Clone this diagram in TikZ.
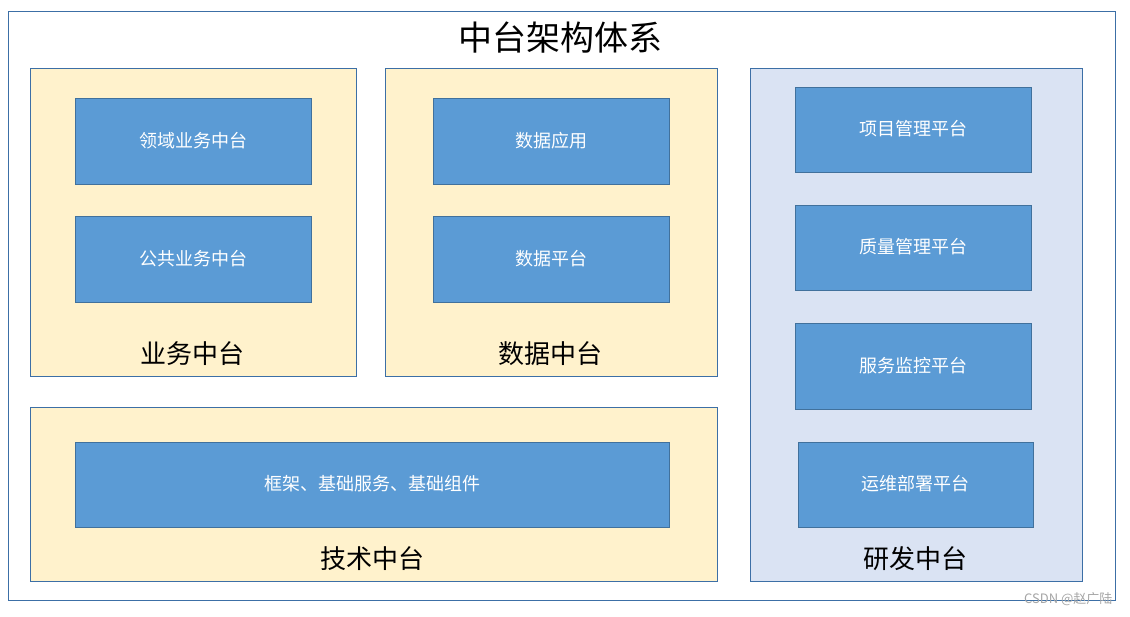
\documentclass[tikz,border=0pt]{standalone}
\usepackage{fontspec}
\newfontfamily\cjk{Noto Sans CJK SC}
\definecolor{cy}{HTML}{FFF2CC}
\definecolor{cb}{HTML}{DAE3F3}
\definecolor{bb}{HTML}{5B9BD5}
\definecolor{bd}{HTML}{41719C}
\definecolor{ln}{HTML}{3C6FA6}
\begin{document}
\begin{tikzpicture}[x=1pt,y=-1pt,font=\cjk,
 cont/.style={draw=ln,line width=0.6pt},
 item/.style={draw=bd,fill=bb,line width=0.6pt},
 itxt/.style={text=white,font=\cjk\fontsize{18}{20}\selectfont},
 lbl/.style={font=\cjk\fontsize{26}{28}\selectfont}]
\useasboundingbox (0,0) rectangle (1130,616);
\fill[white] (0,0) rectangle (1130,616);
\draw[ln,line width=0.6pt] (8,11) rectangle (1115,600);
\node[font=\cjk\fontsize{34}{36}\selectfont] (title) at (560,38) {中台架构体系};
% business
\draw[cont,fill=cy] (30,68) rectangle (356,376);
\draw[item] (75,98) rectangle (311,184); \node[itxt] (b1) at (193,141) {领域业务中台};
\draw[item] (75,216) rectangle (311,302); \node[itxt] (b2) at (193,259) {公共业务中台};
\node[lbl] (bl) at (192,354) {业务中台};
% data
\draw[cont,fill=cy] (385,68) rectangle (717,376);
\draw[item] (433,98) rectangle (669,184); \node[itxt] (d1) at (551,141) {数据应用};
\draw[item] (433,216) rectangle (669,302); \node[itxt] (d2) at (551,259) {数据平台};
\node[lbl] (dl) at (550,354) {数据中台};
% tech
\draw[cont,fill=cy] (30,407) rectangle (717,581);
\draw[item] (75,442) rectangle (669,527); \node[itxt] (t1) at (372,484) {框架、基础服务、基础组件};
\node[lbl] (tl) at (372,559) {技术中台};
% rd
\draw[cont,fill=cb] (750,68) rectangle (1082,581);
\draw[item] (795,87) rectangle (1031,172); \node[itxt] (r1) at (913,129) {项目管理平台};
\draw[item] (795,205) rectangle (1031,290); \node[itxt] (r2) at (913,247) {质量管理平台};
\draw[item] (795,323) rectangle (1031,409); \node[itxt] (r3) at (913,366) {服务监控平台};
\draw[item] (798,442) rectangle (1033,527); \node[itxt] (r4) at (915,484) {运维部署平台};
\node[lbl] (rl) at (915,559) {研发中台};
\node[text=gray!70,font=\cjk\fontsize{13}{14}\selectfont,anchor=east] (wm) at (1116,599) {CSDN @赵广陆};
\end{tikzpicture}
\end{document}
